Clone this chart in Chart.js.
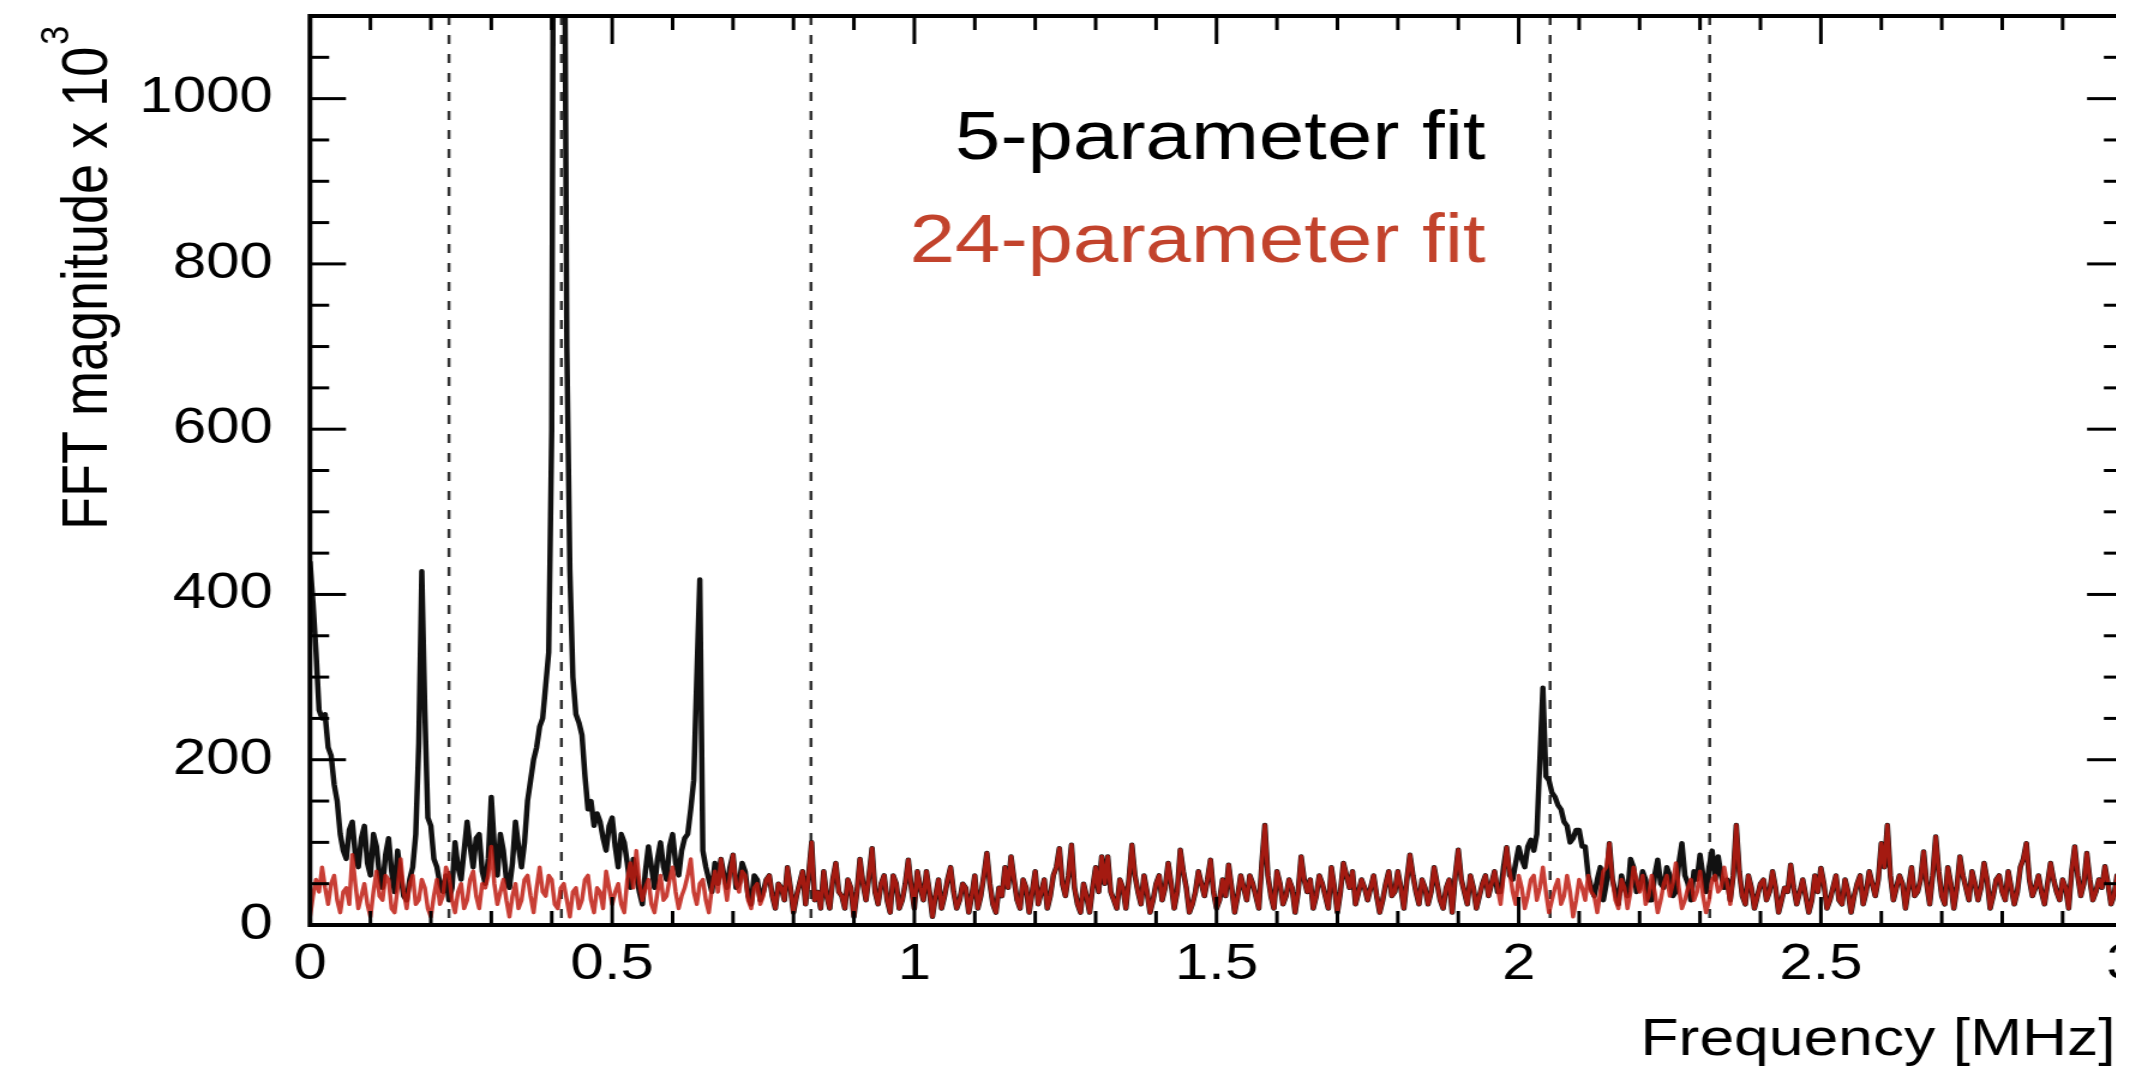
<!DOCTYPE html>
<html>
<head>
<meta charset="utf-8">
<script src="https://cdn.jsdelivr.net/npm/chart.js@4.4.1/dist/chart.umd.min.js"></script>
<style>
  html, body { margin: 0; background: #fff; }
  #wrap { width: 2116px; height: 1071px; overflow: hidden; background: #fff; }
</style>
</head>
<body>
<div id="wrap">
  <canvas id="fft-chart" width="1800" height="1071" style="width:2160px;height:1071px"></canvas>
</div>
<script>
const FONT = "'Liberation Sans', Arial, Helvetica, sans-serif";

// spectrum sampled every 0.005 MHz
const freqStep = 0.005;

// 0.000 - 0.750 MHz, 5-parameter fit residual
const fit5Head = [
  440, 390, 330, 260, 250, 255, 215, 205, 170, 150,
  110, 90, 80, 115, 125, 85, 70, 105, 120, 75,
  60, 110, 95, 60, 45, 85, 105, 65, 40, 90,
  60, 35, 30, 55, 70, 110, 220, 428, 260, 130,
  120, 80, 70, 50, 40, 60, 30, 45, 100, 70,
  55, 90, 125, 95, 70, 105, 110, 65, 50, 80,
  155, 95, 60, 110, 90, 55, 45, 75, 125, 95,
  70, 100, 150, 175, 200, 215, 240, 250, 290, 330,
  600, 1800, 2400, 2300, 1400, 700, 430, 300, 255, 245,
  230, 180, 140, 150, 120, 135, 125, 105, 90, 120,
  130, 95, 70, 110, 100, 75, 45, 80, 60, 40,
  25, 65, 95, 70, 45, 80, 100, 70, 55, 95,
  110, 75, 60, 90, 105, 110, 140, 175, 300, 418,
  90, 70, 55, 40, 75, 50, 80, 60, 45, 70,
  85, 45, 50, 75, 65, 35, 25, 60, 55, 30,
  40
];

// 0.000 - 0.750 MHz, 24-parameter fit residual
const fit24Head = [
  10, 35, 55, 40, 70, 45, 25, 50, 60, 30,
  15, 40, 45, 25, 85, 50, 20, 35, 50, 25,
  10, 40, 65, 35, 30, 60, 55, 20, 15, 45,
  80, 40, 20, 50, 60, 25, 30, 55, 45, 20,
  10, 35, 55, 25, 35, 70, 60, 30, 15, 40,
  50, 20, 30, 55, 65, 35, 20, 50, 45, 60,
  95, 50, 25, 40, 55, 30, 10, 35, 50, 20,
  30, 55, 60, 35, 15, 45, 70, 40, 35, 60,
  55, 25, 20, 45, 50, 30, 10, 40, 45, 20,
  30, 55, 60, 30, 15, 45, 40, 20, 65, 45,
  25, 40, 50, 25, 15, 55, 75, 45, 90, 50,
  30, 45, 55, 25, 15, 40, 60, 30, 35, 55,
  70, 40, 20, 35, 45, 60, 80, 40, 25, 50,
  55, 30, 15, 45, 65, 40, 80, 55, 30, 60,
  85, 50, 40, 65, 60, 30, 20, 45, 50, 25,
  35
];

// 0.755 - 3.000 MHz, where both fits leave the same noise floor
const commonTail = [
  55, 60, 35, 20, 50, 45, 30, 70, 45, 15, 35, 50, 65, 25, 60, 100, 30, 40, 20, 65,
  35, 20, 55, 75, 40, 35, 20, 55, 45, 10, 40, 80, 50, 30, 60, 93, 40, 25, 50, 60,
  30, 15, 60, 50, 20, 30, 50, 79, 45, 20, 65, 45, 30, 65, 40, 10, 35, 55, 20, 35,
  55, 70, 40, 20, 30, 50, 45, 15, 35, 60, 20, 35, 60, 87, 50, 25, 15, 45, 35, 70,
  45, 83, 55, 30, 20, 55, 45, 15, 40, 65, 25, 40, 55, 20, 35, 60, 70, 93, 50, 35,
  60, 97, 45, 25, 15, 50, 35, 15, 45, 70, 40, 83, 50, 83, 40, 30, 20, 55, 45, 20,
  55, 97, 60, 40, 25, 60, 40, 15, 30, 50, 60, 30, 45, 75, 50, 20, 40, 91, 65, 45,
  15, 25, 40, 65, 50, 35, 55, 79, 40, 20, 30, 55, 35, 73, 45, 15, 35, 60, 45, 30,
  60, 50, 35, 20, 75, 121, 60, 35, 20, 65, 50, 25, 35, 55, 45, 15, 40, 83, 55, 40,
  55, 20, 35, 60, 50, 35, 20, 70, 45, 15, 40, 75, 60, 45, 65, 25, 40, 55, 45, 30,
  45, 60, 35, 15, 30, 50, 65, 35, 40, 65, 45, 20, 55, 85, 60, 40, 25, 55, 45, 25,
  40, 70, 50, 30, 20, 45, 55, 15, 60, 91, 55, 40, 25, 60, 45, 20, 35, 50, 60, 35,
  50, 65, 45, 25, 60, 94, 65, 40, 25, 60, 45, 20, 35, 55, 60, 30, 45, 70, 40, 15,
  30, 45, 55, 25, 35, 60, 40, 10, 30, 55, 45, 30, 60, 40, 35, 15, 40, 65, 70, 99,
  55, 30, 20, 55, 45, 20, 40, 70, 55, 40, 60, 25, 35, 60, 40, 15, 30, 50, 60, 35,
  50, 75, 45, 20, 30, 45, 55, 30, 40, 65, 35, 15, 30, 55, 60, 40, 45, 70, 50, 25,
  60, 121, 65, 35, 25, 60, 45, 20, 35, 50, 55, 30, 40, 65, 45, 15, 30, 45, 40, 73,
  45, 25, 40, 55, 35, 15, 30, 60, 40, 69, 50, 20, 30, 45, 60, 30, 25, 55, 40, 15,
  35, 50, 60, 25, 40, 65, 50, 35, 55, 99, 70, 121, 60, 30, 45, 60, 50, 20, 45, 70,
  35, 40, 55, 89, 50, 25, 60, 107, 65, 35, 25, 70, 50, 20, 45, 83, 60, 45, 30, 65,
  50, 30, 45, 75, 55, 20, 35, 55, 60, 40, 30, 65, 45, 25, 40, 70, 80, 99, 55, 35,
  45, 60, 40, 25, 50, 75, 55, 40, 30, 55, 45, 20, 65, 95, 60, 35, 50, 87, 55, 30,
  40, 55, 45, 71, 50, 25, 35, 60, 55, 40
];

// 1.960 - 2.350 MHz, line left in the 5-parameter fit
const resonanceStart = 1.96;
const fit5Resonance = [
  65, 40, 40, 70, 94, 60, 55, 75, 94, 80,
  70, 95, 103, 90, 110, 200, 287, 180, 175, 160,
  155, 145, 140, 125, 120, 100, 105, 115, 115, 95,
  95, 60, 45, 35, 55, 70, 30, 50, 99, 55,
  40, 25, 60, 45, 35, 80, 70, 40, 45, 65,
  55, 30, 30, 60, 79, 50, 45, 70, 60, 35,
  40, 75, 99, 60, 50, 30, 65, 55, 85, 60,
  40, 70, 90, 55, 83, 60, 45, 55, 30
];

// dotted reference frequencies (MHz)
const markerFreqs = [0.23, 0.416, 0.829, 2.052, 2.316];

const xTicks = [0, 0.5, 1, 1.5, 2, 2.5, 3];
const xTickLabels = ['0', '0.5', '1', '1.5', '2', '2.5', '3'];
const yTicks = [0, 200, 400, 600, 800, 1000];
const yTickLabels = ['0', '200', '400', '600', '800', '1000'];

const seriesNames = ['5-parameter fit', '24-parameter fit'];
const xTitle = 'Frequency [MHz]';
const yTitle = 'FFT magnitude x 10';
const yTitleExp = '3';

const RED = 'rgba(190, 28, 18, 0.85)';
const RED_TEXT = '#c2432c';

function toPoints(values) {
  return values.map((v, i) => ({ x: +(i * freqStep).toFixed(3), y: v }));
}

const fit5 = fit5Head.concat(commonTail);
const resIdx = Math.round(resonanceStart / freqStep);
fit5Resonance.forEach((v, i) => { fit5[resIdx + i] = v; });
const fit24 = fit24Head.concat(commonTail);

// dotted vertical lines, under the curves
const markerLines = {
  id: 'markerLines',
  beforeDatasetsDraw(chart) {
    const { ctx, chartArea: a, scales: { x } } = chart;
    ctx.save();
    ctx.strokeStyle = '#333';
    ctx.lineWidth = 2.5;
    ctx.setLineDash([9, 10]);
    markerFreqs.forEach(f => {
      const px = x.getPixelForValue(f);
      ctx.beginPath();
      ctx.moveTo(px, a.top);
      ctx.lineTo(px, a.bottom);
      ctx.stroke();
    });
    ctx.restore();
  }
};

// box round the plot with inward ticks on all four sides
const frame = {
  id: 'frame',
  afterDatasetsDraw(chart) {
    const { ctx, chartArea: a, scales: { x, y } } = chart;
    const seg = (x1, y1, x2, y2) => {
      ctx.beginPath();
      ctx.moveTo(x1, y1);
      ctx.lineTo(x2, y2);
      ctx.stroke();
    };
    ctx.save();
    ctx.strokeStyle = '#000';
    ctx.lineWidth = 3;
    for (let k = 1; k < 30; k++) {
      const v = k / 10;
      const px = x.getPixelForValue(v);
      const len = k % 5 === 0 ? 28 : 14;
      seg(px, a.bottom, px, a.bottom - len);
      seg(px, a.top, px, a.top + len);
    }
    for (let v = 50; v < 1100; v += 50) {
      const py = y.getPixelForValue(v);
      const len = v % 200 === 0 ? 30 : 16;
      seg(a.left, py, a.left + len, py);
      seg(a.right, py, a.right - len, py);
    }
    ctx.lineWidth = 4;
    ctx.strokeRect(a.left, a.top, a.right - a.left, a.bottom - a.top);
    ctx.restore();
  }
};

// axis titles and the in-plot legend
const texts = {
  id: 'texts',
  afterDraw(chart) {
    const ctx = chart.ctx;
    ctx.save();
    ctx.textBaseline = 'alphabetic';
    ctx.fillStyle = '#000';

    ctx.font = `52px ${FONT}`;
    ctx.textAlign = 'right';
    ctx.fillText(xTitle, 1763, 1055);

    ctx.font = `68px ${FONT}`;
    ctx.fillText(seriesNames[0], 1238, 159);
    ctx.fillStyle = RED_TEXT;
    ctx.fillText(seriesNames[1], 1238, 262);

    ctx.fillStyle = '#000';
    ctx.translate(89, 530);
    ctx.rotate(-Math.PI / 2);
    ctx.textAlign = 'left';
    ctx.font = `54px ${FONT}`;
    ctx.fillText(yTitle, 0, 0);
    const w = ctx.measureText(yTitle).width;
    ctx.font = `34px ${FONT}`;
    ctx.fillText(yTitleExp, w + 2, -32);
    ctx.restore();
  }
};

const plotLeft = 258.3;
const plotRight = 1769.2;
const plotTop = 16;
const plotBottom = 925;

new Chart(document.getElementById('fft-chart'), {
  type: 'line',
  data: {
    datasets: [
      {
        label: seriesNames[1],
        data: toPoints(fit24),
        borderColor: RED,
        borderWidth: 3.5,
        pointRadius: 0,
        tension: 0,
        borderJoinStyle: 'round',
        order: 0
      },
      {
        label: seriesNames[0],
        data: toPoints(fit5),
        borderColor: '#111',
        borderWidth: 4.5,
        pointRadius: 0,
        tension: 0,
        borderJoinStyle: 'round',
        order: 1
      }
    ]
  },
  options: {
    responsive: false,
    animation: false,
    devicePixelRatio: 1,
    layout: {
      padding: { left: 0, top: plotTop, right: 1800 - plotRight, bottom: 0 }
    },
    plugins: {
      legend: { display: false },
      tooltip: { enabled: false }
    },
    scales: {
      x: {
        type: 'linear',
        min: 0,
        max: 3,
        grid: { display: false, drawTicks: false },
        border: { display: false },
        afterBuildTicks: s => { s.ticks = xTicks.map(v => ({ value: v })); },
        afterFit: s => {
          s.height = 1071 - plotBottom;
          s.paddingLeft = 0;
          s.paddingRight = 0;
        },
        ticks: {
          autoSkip: false,
          maxRotation: 0,
          padding: 10,
          color: '#000',
          font: { family: FONT, size: 50 },
          callback: (v, i) => xTickLabels[i]
        }
      },
      y: {
        min: 0,
        max: 1100,
        grid: { display: false, drawTicks: false },
        border: { display: false },
        afterBuildTicks: s => { s.ticks = yTicks.map(v => ({ value: v })); },
        afterFit: s => {
          s.width = plotLeft;
          s.paddingTop = 0;
          s.paddingBottom = 0;
        },
        ticks: {
          padding: 31,
          color: '#000',
          font: { family: FONT, size: 50 },
          callback: (v, i) => yTickLabels[i]
        }
      }
    }
  },
  plugins: [markerLines, frame, texts]
});
</script>
</body>
</html>
